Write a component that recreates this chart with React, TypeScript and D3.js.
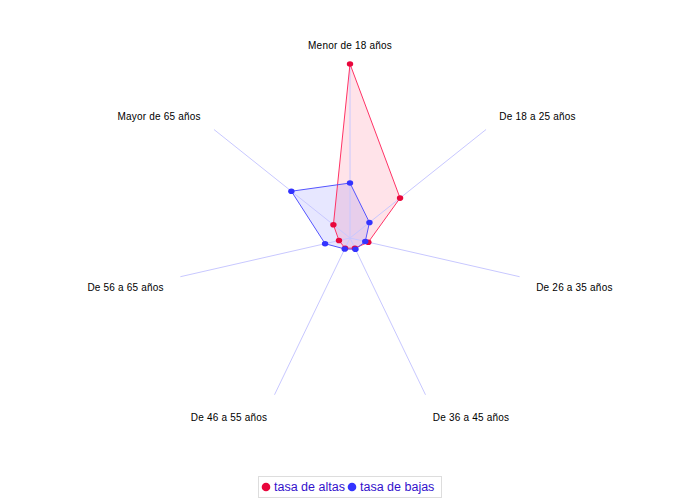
import React from "react";
import * as d3 from "d3";

const categories = [
  "Menor de 18 años",
  "De 18 a 25 años",
  "De 26 a 35 años",
  "De 36 a 45 años",
  "De 46 a 55 años",
  "De 56 a 65 años",
  "Mayor de 65 años",
];
const altas = [100, 36.8, 10.8, 6.5, 6.5, 6.5, 12.2];
const bajas = [31.6, 14.3, 9.0, 7.2, 7.0, 14.7, 43.1];
const seriesNames = ["tasa de altas", "tasa de bajas"];

const W = 700;
const H = 500;
const cx = 350;
const cy = 238;
const R = 174;

export default function App() {
  const maxV = d3.max([...altas, ...bajas]) as number;
  const r = d3.scaleLinear().domain([0, maxV]).range([0, R]);
  const n = categories.length;
  const ang = d3.scaleLinear().domain([0, n]).range([0, 2 * Math.PI]);
  const pt = (i: number, v: number): [number, number] => {
    const a = ang(i);
    return [cx + Math.sin(a) * r(v), cy - Math.cos(a) * r(v)];
  };
  const line = d3.line<[number, number]>().curve(d3.curveLinearClosed);
  const series = [
    { name: seriesNames[0], data: altas, stroke: "#ff3366", fill: "rgba(255,60,100,0.14)", dot: "#e8063c" },
    { name: seriesNames[1], data: bajas, stroke: "#5555ff", fill: "rgba(70,70,255,0.13)", dot: "#3333ff" },
  ];
  const font = "'Liberation Sans', Arial, sans-serif";
  return (
    <svg width={W} height={H} style={{ position: "absolute", left: 0, top: 0, background: "#fff" }}>
      {series.map((s) => (
        <path key={s.name + "f"} d={line(s.data.map((v, i) => pt(i, v))) || ""} fill={s.fill} stroke="none" />
      ))}
      {categories.map((c, i) => {
        const [x, y] = pt(i, maxV);
        return <line key={c} x1={cx} y1={cy} x2={x} y2={y} stroke="#c8c8ff" strokeWidth={1} />;
      })}
      {series.map((s) => (
        <path key={s.name + "l"} d={line(s.data.map((v, i) => pt(i, v))) || ""} fill="none" stroke={s.stroke} strokeWidth={1} />
      ))}
      {series.map((s) =>
        s.data.map((v, i) => {
          const [x, y] = pt(i, v);
          return <ellipse key={s.name + i} cx={x} cy={y} rx={3.2} ry={2.8} fill={s.dot} />;
        })
      )}
      {categories.map((c, i) => {
        const a = ang(i);
        const RL = R + 17;
        const x = cx + Math.sin(a) * RL;
        let y = cy - Math.cos(a) * RL;
        const s = Math.sin(a);
        const anchor = Math.abs(s) < 0.01 ? "middle" : s > 0 ? "start" : "end";
        y += Math.cos(a) < 0 ? 7 : -2;
        return (
          <text key={c} x={x} y={y} dy="0.35em" textAnchor={anchor} fontFamily={font} fontSize={10} letterSpacing={0.2} fill="#000">
            {c}
          </text>
        );
      })}
      <g>
        <rect x={258.5} y={476.5} width={183} height={21} fill="#fff" stroke="#dddddd" />
        {series.map((s, k) => {
          const x0 = k === 0 ? 266 : 352;
          return (
            <g key={s.name}>
              <circle cx={x0} cy={487} r={4.3} fill={s.dot} />
              <text x={x0 + 8} y={487} dy="0.35em" fontFamily={font} fontSize={12.5} fill="#3311cc">
                {s.name}
              </text>
            </g>
          );
        })}
      </g>
    </svg>
  );
}
